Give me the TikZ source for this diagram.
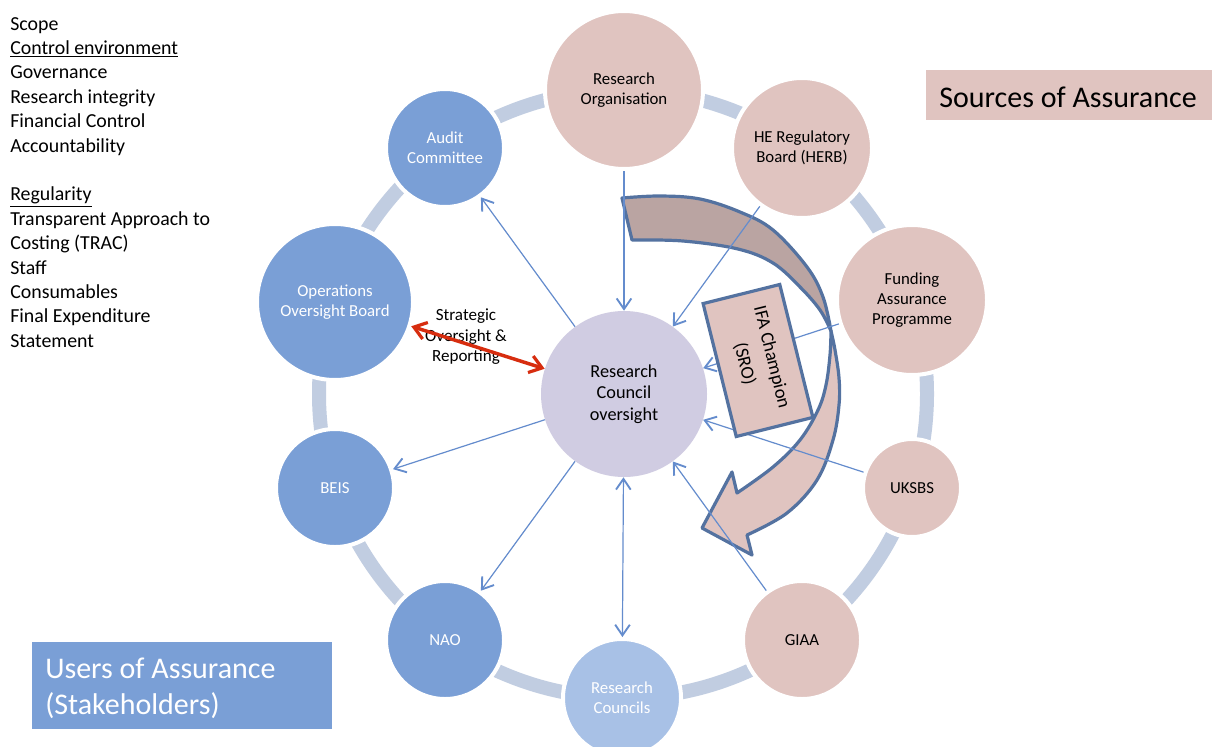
\documentclass[tikz,border=0pt]{standalone}
\usepackage{fontspec}
\setmainfont{Carlito}
\usetikzlibrary{arrows.meta}
\definecolor{ublue}{RGB}{122,159,214}
\definecolor{lblue}{RGB}{168,193,230}
\definecolor{spink}{RGB}{224,196,192}
\definecolor{lav}{RGB}{208,204,226}
\definecolor{ringc}{RGB}{193,205,225}
\definecolor{connc}{RGB}{100,140,205}
\definecolor{aout}{RGB}{84,114,160}
\definecolor{adark}{RGB}{186,164,162}
\definecolor{redc}{RGB}{215,45,15}
\newcommand\ndfont{\fontsize{12.6pt}{15pt}\selectfont}
\begin{document}
\begin{tikzpicture}[x=0.75pt,y=-0.75pt,
  every node/.style={inner sep=0pt},
  ringnode/.style={circle, draw=white, line width=3pt, align=center, font=\ndfont},
  bnode/.style={ringnode, fill=ublue, text=white},
  pnode/.style={ringnode, fill=spink, text=black},
  conn/.style={draw=connc, line width=0.9pt, -{Straight Barb[length=8pt,width=11pt,line width=1.4pt]}},
  conn2/.style={draw=connc, line width=0.9pt, {Straight Barb[length=8pt,width=11pt,line width=1.4pt]}-{Straight Barb[length=8pt,width=11pt,line width=1.4pt]}},
  lefttext/.style={anchor=base west, font=\fontsize{14.9pt}{18pt}\selectfont},
  bigtext/.style={anchor=base west, font=\fontsize{22.5pt}{27pt}\selectfont}
]
\clip (0,0) rectangle (1212,746);
\fill[white] (0,0) rectangle (1212,746);

% ring
\draw[ringc, line width=10.5pt] (623,394) circle[radius=304];

% ring nodes
\node[pnode, minimum size=118.5pt] (ro) at (624,90) {Research\\Organisation};
\node[pnode, minimum size=105pt] (herb) at (802,148) {HE Regulatory\\Board (HERB)};
\node[pnode, minimum size=112.5pt] (fap) at (912,300) {Funding\\Assurance\\Programme};
\node[pnode, minimum size=73.5pt] (uksbs) at (912,488) {UKSBS};
\node[pnode, minimum size=88.5pt] (giaa) at (802,640) {GIAA};
\node[ringnode, fill=lblue, text=white, minimum size=88.5pt] (rcs) at (622,698) {Research\\Councils};
\node[bnode, minimum size=88.5pt] (nao) at (445,640) {NAO};
\node[bnode, minimum size=88.5pt] (beis) at (335,488) {BEIS};
\node[bnode, minimum size=117pt] (oob) at (335,302) {Operations\\Oversight Board};
\node[bnode, minimum size=88.5pt] (ac) at (445,148) {Audit\\Committee};

% centre
\node[circle, fill=lav, minimum size=124.5pt, align=center, font=\fontsize{13.7pt}{16.2pt}\selectfont] (rc) at (624,394) {Research\\Council\\oversight};

% curved arrow
\filldraw[fill=adark, draw=aout, line width=2.4pt, line join=round]
  (622,198) -- plot[smooth, tension=0.6] coordinates {(632,240) (683,241) (738,249) (773,263) (800,287) (820,310) (831,331)}
  -- plot[smooth, tension=0.6] coordinates {(831,331) (823,297) (807,267) (773,230) (740,212) (700,199) (660,196) (622,198)} -- cycle;
\filldraw[fill=spink, draw=aout, line width=2.4pt, line join=round]
  (831,331) -- plot[smooth, tension=0.6] coordinates {(831,331) (835,350) (839,378) (839,405) (833,440) (817,480) (787,513) (747,535)}
  -- (752,555) -- (702,528) -- (732,472)
  -- plot[smooth, tension=0.6] coordinates {(737,493) (773,467) (800,440) (818,410) (826,385) (830,355) (831,331)} -- cycle;

% connectors
\draw[conn] (ro) -- (rc);
\draw[conn] (herb) -- (rc);
\draw[conn] (fap) -- (rc);
\draw[conn] (uksbs) -- (rc);
\draw[conn] (giaa) -- (rc);
\draw[conn2] (rc) -- (rcs);
\draw[conn] (rc) -- (nao);
\draw[conn] (rc) -- (beis);
\draw[conn] (rc) -- (ac);

% IFA box
\node[draw=aout, line width=2.4pt, fill=spink, rotate=-76, minimum width=102.75pt, minimum height=59.25pt, align=center, font=\fontsize{14pt}{21pt}\selectfont] (ifa) at (758,360.5) {IFA Champion\\(SRO)};

% strategic oversight
\node[align=center, font=\fontsize{12.8pt}{15.4pt}\selectfont] (sor) at (466,337) {Strategic\\Oversight \&\\Reporting};
\draw[draw=redc, line width=2.6pt, {Straight Barb[length=9pt,width=13pt,line width=2.4pt]}-{Straight Barb[length=9pt,width=13pt,line width=2.4pt]}] (oob) -- (rc);

% left text
\foreach \k/\t in {0/Scope, 1/{\underline{Control environment}}, 2/Governance, 3/Research integrity, 4/Financial Control, 5/Accountability, 7/{\underline{Regularity}}, 8/Transparent Approach to, 9/Costing (TRAC), 10/Staff, 11/Consumables, 12/Final Expenditure, 13/Statement}
  \node[lefttext] (t\k) at (10,{30+\k*24.4}) {\t};

% legend boxes
\fill[spink] (926,70) rectangle (1212,120);
\node[bigtext] (src) at (939,107) {Sources of Assurance};
\fill[ublue] (32,642) rectangle (332,729);
\node[bigtext, text=white] (usr1) at (45,678.5) {Users of Assurance};
\node[bigtext, text=white] (usr2) at (45,714.5) {(Stakeholders)};
\end{tikzpicture}
\end{document}
